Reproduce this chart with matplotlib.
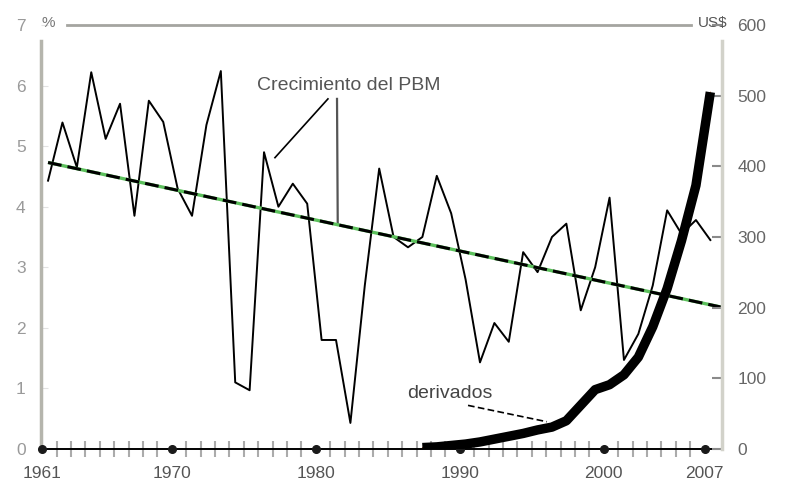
import numpy as np
import matplotlib
matplotlib.use('Agg')
import matplotlib.pyplot as plt

plt.rcParams['font.family'] = ['Liberation Sans', 'DejaVu Sans']

# ---- data ----
years = np.arange(1961, 2008)
# world product growth, %
gdp_growth = [4.43, 5.39, 4.65, 6.22, 5.12, 5.70, 3.85, 5.75, 5.40, 4.30,
              3.85, 5.35, 6.24, 1.10, 0.97, 4.90, 4.00, 4.38, 4.05, 1.80,
              1.80, 0.43, 2.70, 4.63, 3.50, 3.33, 3.50, 4.51, 3.89, 2.80,
              1.43, 2.08, 1.77, 3.25, 2.92, 3.50, 3.72, 2.29, 3.00, 4.15,
              1.47, 1.90, 2.70, 3.94, 3.55, 3.78, 3.45]

# derivatives, US$ (right axis)
deriv_years = np.arange(1987, 2008)
derivatives = [2, 3, 5, 7, 10, 14, 18, 22, 27, 31,
               40, 62, 84, 91, 105, 130, 173, 227, 295, 373, 505]

# linear trend of growth (end points)
trend_years = [1961, 2007.8]
trend_vals = [4.73, 2.34]

major_years = [1961, 1970, 1980, 1990, 2000, 2007]
left_ticks = list(range(0, 8))
right_ticks = list(range(0, 700, 100))

# ---- figure ----
fig = plt.figure(figsize=(7.86, 4.83), dpi=100)
ax = fig.add_axes([41 / 786, 34 / 483, 681 / 786, 424 / 483])
ax2 = ax.twinx()

x_lo, x_hi = 1960.51, 2007.81
tick_shift = -0.4   # category labels sit a little left of the points

ax.set_xlim(x_lo, x_hi)
ax.set_ylim(0, 7)
ax2.set_ylim(0, 600)

# growth line and trend
ax.plot(years, gdp_growth, color='black', lw=1.4, zorder=3)
ax.plot(trend_years, trend_vals, color='#5cc05c', lw=2.4, zorder=4,
        solid_capstyle='butt')
ax.plot(trend_years, trend_vals, color='black', lw=2.2, zorder=5,
        dashes=(4.5, 2))

# derivatives
ax2.plot(deriv_years, derivatives, color='black', lw=6.8, zorder=3,
         solid_capstyle='butt')
ax2.plot(deriv_years, derivatives, color='#c0501a', lw=0.6, zorder=2)

# spines
for s in ['top', 'right']:
    ax.spines[s].set_visible(False)
for s in ['top', 'left', 'bottom']:
    ax2.spines[s].set_visible(False)
ax.spines['left'].set_color('#b5b5ad')
ax.spines['left'].set_linewidth(2.5)
ax.spines['left'].set_bounds(0, 6.74)
ax.spines['bottom'].set_color('black')
ax.spines['bottom'].set_linewidth(1.4)
ax2.spines['right'].set_color('#d2d2ca')
ax2.spines['right'].set_linewidth(2.5)
ax2.spines['right'].set_bounds(0, 578)

# top rule with unit labels
ax.axhline(7, xmin=0.038, xmax=0.955, color='#a5a5a0', lw=2, clip_on=False)
ax.text(0.0103, 1.005, '%', transform=ax.transAxes, ha='center', va='center',
        fontsize=11, color='#777777')
ax.text(0.986, 1.005, 'US$', transform=ax.transAxes, ha='center', va='center',
        fontsize=11, color='#555555')

# y ticks
ax.set_yticks(left_ticks)
ax.tick_params(axis='y', direction='in', length=5, color='#e2e2e2',
               labelcolor='#9a9a9a', labelsize=12.5, pad=11)
ax2.set_yticks(right_ticks)
ax2.tick_params(axis='y', direction='in', length=7, width=1.5, color='#8a8a8a',
                labelcolor='#666666', labelsize=12.5, pad=11)

# x ticks: labels at the main years, small marks every year
tick_pos = [y + tick_shift for y in major_years]
ax.set_xticks(tick_pos)
ax.set_xticklabels([str(y) for y in major_years])
ax.set_xticks([y + tick_shift for y in years], minor=True)
ax.tick_params(axis='x', which='major', length=0, labelsize=12.5,
               labelcolor='#555555', pad=12)
ax.tick_params(axis='x', which='minor', direction='inout', length=12,
               width=1.5, color='#ababab')
ax.plot(tick_pos, [0] * len(tick_pos), 'o', color='#1a1a1a', ms=5.5,
        clip_on=False, zorder=6)

# annotations
ax.text(1975.5, 6.0, 'Crecimiento del PBM', fontsize=14, color='#555555',
        ha='left', va='center')
ax.plot([1980.44, 1976.76], [5.78, 4.81], color='black', lw=1.2)
ax.plot([1981.07, 1981.12], [5.78, 3.72], color='#555555', lw=1.6)

ax.text(1985.93, 0.91, 'derivados', fontsize=14, color='#444444',
        ha='left', va='center')
ax.plot([1990.17, 1995.65], [0.72, 0.45], color='black', lw=1.2,
        dashes=(4, 2))

fig.savefig('out.png', dpi=100)
